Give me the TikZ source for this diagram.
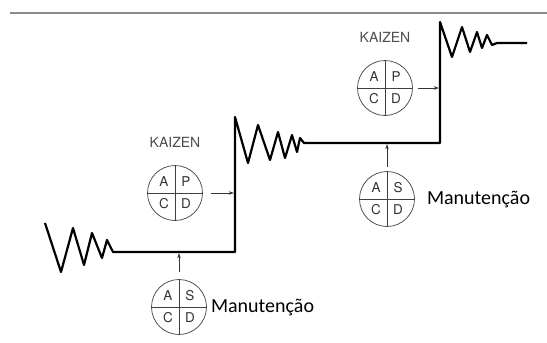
\documentclass[tikz,border=0pt]{standalone}
\usepackage{fontspec}
\setmainfont{Carlito}
\newfontfamily\heros{TeX Gyre Heros}
\usetikzlibrary{arrows.meta,positioning}

\begin{document}
\begin{tikzpicture}[x=1pt, y=-1pt,
	stair/.style={line width=2.2pt, line join=round},
	pdca/.style={circle, draw=black!75, line width=0.7pt, minimum size=55pt, inner sep=0pt},
	quad/.style={draw=black!75, line width=0.7pt},
	letter/.style={font=\heros\fontsize{13.5}{14}\selectfont, text=black!80, inner sep=0pt},
	feed/.style={draw=black!80, line width=0.6pt, -{Stealth[length=5pt,width=3.5pt]}},
	kaizen/.style={font=\heros\fontsize{14}{14}\selectfont, text=black!70, inner sep=0pt},
	manut/.style={font=\fontsize{20}{22}\selectfont, inner sep=0pt}]
	\useasboundingbox (0,0) rectangle (547,343);
	\draw[black!45, line width=1.2pt] (10,13) -- (547,13);
	% staircase with the sawtooth after each step
	\draw[stair] (45,223) -- (61,272) -- (73,228) -- (84,265) -- (92,233) -- (102,258) -- (107,240) -- (113,252)
		-- (235,252) -- (235,117) -- (248,163) -- (258,125) -- (270,160) -- (278,132) -- (285,158) -- (292,135)
		-- (297,152) -- (300,138) -- (304,143) -- (440,143) -- (440,22) -- (452,57) -- (462,27) -- (470,52)
		-- (477,32) -- (482,48) -- (487,35) -- (492,45) -- (497,43) -- (527,43);
	\coordinate (v1) at (235,193);
	\coordinate (v2) at (440,88);
	\coordinate (h1) at (179,252);
	\coordinate (h2) at (387,143);
	% kaizen and maintenance cycles
	\node[pdca] (k1) at (175,193) {};
	\node[pdca] (k2) at (385,88) {};
	\node[pdca] (m1) at (179,307) {};
	\node[pdca] (m2) at (387,199) {};
	\foreach \c/\a/\b in {k1/A/P, k2/A/P, m1/A/S, m2/A/S} {
		\draw[quad] (\c.north) -- (\c.south) (\c.west) -- (\c.east);
		\node[letter] (\c-tl) at ([shift={(-11,-11)}]\c.center) {\a};
		\node[letter] (\c-tr) at ([shift={(11,-11)}]\c.center) {\b};
		\node[letter] (\c-bl) at ([shift={(-11,11)}]\c.center) {C};
		\node[letter] (\c-br) at ([shift={(11,11)}]\c.center) {D};
	}
	\node[kaizen, above=17pt of k1] (t1) {KAIZEN};
	\node[kaizen, above=17pt of k2] (t2) {KAIZEN};
	\node[manut, right=4pt of m1] (n1) {Manutenção};
	\node[manut, right=12pt of m2] (n2) {Manutenção};
	\draw[feed, shorten <=8pt, shorten >=1.2pt] (k1) -- (v1);
	\draw[feed, shorten <=5pt, shorten >=1.2pt] (k2) -- (v2);
	\draw[feed, shorten <=7pt, shorten >=1.2pt] (m1) -- (h1);
	\draw[feed, shorten <=4pt, shorten >=1.2pt] (m2) -- (h2);
\end{tikzpicture}
\end{document}
